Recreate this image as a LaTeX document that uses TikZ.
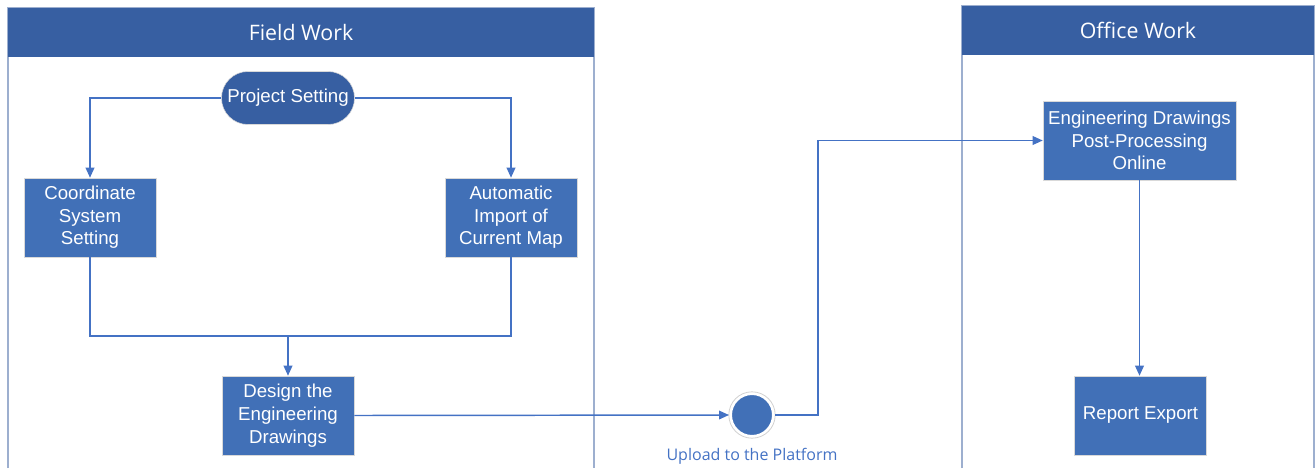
\documentclass[tikz,border=0pt]{standalone}
\usepackage{fontspec}
\setmainfont{Liberation Sans}
\newfontfamily\lanefont{Open Sans}
\usepackage{tikz}
\usetikzlibrary{arrows.meta,calc}
\definecolor{lanehead}{HTML}{375FA2}
\definecolor{stepblue}{HTML}{4170B7}
\definecolor{flowblue}{HTML}{4472C4}
\definecolor{laneedge}{HTML}{9DAFCF}

\begin{document}
\begin{tikzpicture}[x=0.75pt, y=-0.75pt,
    stepbox/.style={draw=black!15, fill=stepblue, text=white, align=center,
      font=\fontsize{14}{17}\selectfont, minimum width=99pt, minimum height=59.25pt, inner sep=1pt},
    startpill/.style={stepbox, fill=lanehead, rounded corners=19.8pt,
      minimum width=99.75pt, minimum height=39.75pt},
    flow/.style={flowblue, line width=1.1pt},
    tip/.style={flow, -{Triangle[length=7.5pt, width=6.5pt]}},
    lanetitle/.style={text=white, font=\lanefont\fontsize{16}{19}\selectfont},
    uploaddot/.style={circle, fill=stepblue, draw=white, line width=2.25pt,
      minimum size=32.25pt, inner sep=0pt}]
    \useasboundingbox (0,0) rectangle (1316,468);
    \coordinate (FieldTL) at (8,8);
    \coordinate (FieldBR) at (594,57);
    \coordinate (OfficeTL) at (962,6);
    \coordinate (OfficeBR) at (1314,55);
    \coordinate (merge) at (288,336);
    \coordinate (riser) at (818,0);
    \draw[laneedge, line width=1pt] (8,468) -- (FieldTL) -- (594,8) -- (594,468);
    \draw[laneedge, line width=1pt] (962,468) -- (OfficeTL) -- (1314,6) -- (1314,468);
    \fill[lanehead] (FieldTL) rectangle (FieldBR);
    \fill[lanehead] (OfficeTL) rectangle (OfficeBR);
    \node[lanetitle] (field) at ($(FieldTL)!0.5!(FieldBR)$) {Field Work};
    \node[lanetitle] (office) at ($(OfficeTL)!0.5!(OfficeBR)$) {Office Work};
    \node[startpill] (project) at (288,98) {Project Setting};
    \node[stepbox] (coordsys) at (90,217.5) {Coordinate\\System\\Setting};
    \node[stepbox] (import) at (511,217.5) {Automatic\\Import of\\Current Map};
    \node[stepbox] (design) at (288,415.5) {Design the\\Engineering\\Drawings};
    \node[stepbox, minimum width=144.75pt] (post) at (1139.5,140.5) {Engineering Drawings\\Post-Processing\\Online};
    \node[stepbox] (report) at (1140.5,415.5) {Report Export};
    \node[uploaddot] (upload) at (752,415) {};
    \draw[black!18, line width=0.6pt] (upload.center) circle (17.4pt);
    \node[below=4pt, text=flowblue, font=\lanefont\fontsize{12}{14}\selectfont] (uplabel) at (upload.south) {Upload to the Platform};
    \draw[tip] (project.west) -| (coordsys.north);
    \draw[tip] (project.east) -| (import.north);
    \draw[flow] (coordsys.south) |- (merge) -| (import.south);
    \draw[tip] (merge) -- (design.north);
    \draw[tip] (design.east) -- (upload.west);
    \draw[tip] (upload.east) -- (upload.east -| riser) |- (post.west);
    \draw[tip] (post.south) -- (post.south |- report.north);
\end{tikzpicture}
\end{document}
